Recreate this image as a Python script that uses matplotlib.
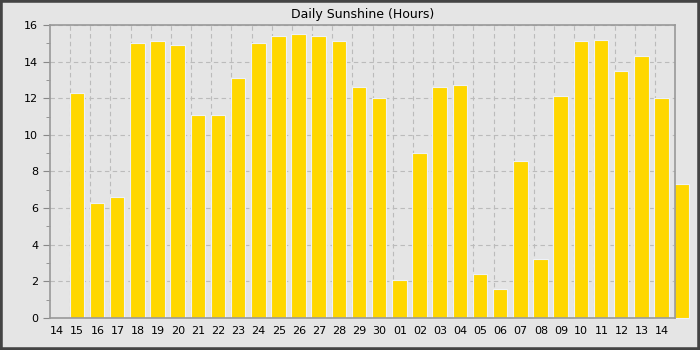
import matplotlib
matplotlib.use("Agg")
import matplotlib.pyplot as plt
from matplotlib.patches import Rectangle
from matplotlib.ticker import MultipleLocator
import numpy as np

day_labels = ["14", "15", "16", "17", "18", "19", "20", "21", "22", "23", "24", "25",
              "26", "27", "28", "29", "30", "01", "02", "03", "04", "05", "06", "07",
              "08", "09", "10", "11", "12", "13", "14"]
sunshine = [12.3, 6.3, 6.6, 15.0, 15.1, 14.9, 11.1, 11.1, 13.1, 15.0, 15.4, 15.5,
            15.4, 15.1, 12.6, 12.0, 2.1, 9.0, 12.6, 12.7, 2.4, 1.6, 8.6, 3.2,
            12.1, 15.1, 15.2, 13.5, 14.3, 12.0, 7.3]

bg = "#e5e5e5"
fig = plt.figure(figsize=(7, 3.5), dpi=100, facecolor=bg)
fig.patches.append(Rectangle((0, 0), 1, 1, transform=fig.transFigure, fill=False,
                             edgecolor="#444444", linewidth=4))
ax = fig.add_axes([0.0714, 0.0914, 0.8929, 0.8372], facecolor=bg)

# bar for day k starts on the k-th grid line
x_bars = np.arange(1, len(sunshine) + 1)
ax.bar(x_bars - 0.03, sunshine, width=0.72, align="edge", color="#ffd700",
       edgecolor="#eef2f8", linewidth=0.8, zorder=3, clip_on=False)

ax.set_xlim(0, 31)
ax.set_ylim(0, 16)
ax.set_xticks(np.arange(len(day_labels)) + 0.35)
ax.set_xticklabels(day_labels)
ax.set_xticks(np.arange(1, 31), minor=True)
ax.tick_params(axis="x", which="both", length=0, labelsize=8, pad=6)
ax.yaxis.set_major_locator(MultipleLocator(2))
ax.yaxis.set_minor_locator(MultipleLocator(1))
ax.tick_params(axis="y", which="major", length=5, labelsize=8, color="#888888")
ax.tick_params(axis="y", which="minor", length=3, color="#888888")

ax.grid(axis="x", which="minor", color="#bbbbbb", linestyle=(0, (4, 3)), linewidth=0.8, zorder=1)
ax.grid(axis="y", which="major", color="#bbbbbb", linestyle=(0, (4, 3)), linewidth=0.8, zorder=1)
for s in ax.spines.values():
    s.set_color("#999999")
    s.set_linewidth(1.2)
    s.set_zorder(4)

ax.set_title("Daily Sunshine (Hours)", fontsize=9, pad=5)

fig.savefig("out.png", dpi=100, facecolor=bg)
